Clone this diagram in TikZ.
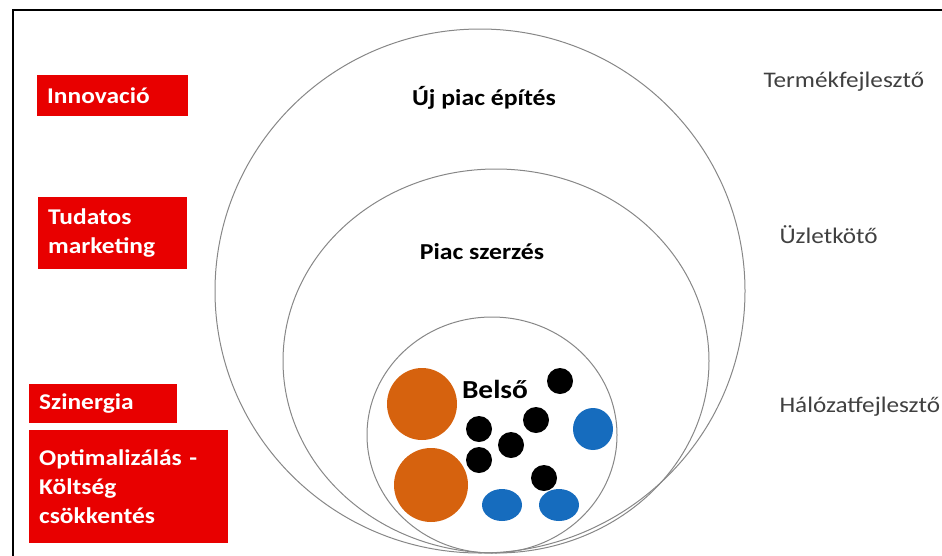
\documentclass[tikz,border=0pt]{standalone}
\usepackage{fontspec}
\setmainfont{Carlito}[FakeStretch=1.13]
\usetikzlibrary{positioning}
\definecolor{boxred}{RGB}{232,0,0}
\definecolor{ringgray}{RGB}{135,135,135}
\definecolor{dotorange}{RGB}{214,98,14}
\definecolor{dotblue}{RGB}{22,108,190}
\definecolor{labelgray}{RGB}{64,64,64}

\begin{document}
\begin{tikzpicture}[x=1pt,y=-1pt]
  \tikzstyle{redbox}=[rectangle,fill=boxred,text=white,font=\fontsize{22.5}{29}\selectfont\bfseries,
                      inner xsep=10pt,inner ysep=0pt,align=left,anchor=north west]
  \tikzstyle{level}=[font=\fontsize{22.8}{26}\selectfont\bfseries,text=black]
  \tikzstyle{role}=[font=\fontsize{22.3}{26}\selectfont,text=labelgray,anchor=west]
  \tikzstyle{ring}=[draw=ringgray,line width=1pt]
  \useasboundingbox (0,0) rectangle (942,555);
  \draw[line width=2pt] (13,560) -- (13,10) -- (950,10);
  % rings
  \draw[ring] (480,291) ellipse [x radius=265,y radius=262];
  \draw[ring] (496,361) ellipse [x radius=213,y radius=192];
  \draw[ring] (492,435) ellipse [x radius=125,y radius=118];
  % members
  \fill[dotorange] (422,404) ellipse [x radius=35,y radius=36];
  \fill[dotorange] (431,485) ellipse [x radius=37,y radius=37];
  \foreach \px/\py in {560/381,536/420,479/429,511/445,479/460,544/478}
    \fill[black] (\px,\py) circle [radius=13];
  \fill[dotblue] (593,429) ellipse [x radius=20,y radius=21];
  \fill[dotblue] (502,505) ellipse [x radius=20,y radius=16];
  \fill[dotblue] (559,505) ellipse [x radius=20,y radius=16];
  % left boxes
  \node[redbox,minimum width=151pt,minimum height=41pt,text width=131pt] (innov) at (37,75) {Innovació};
  \node[redbox,minimum width=149pt,minimum height=72pt,text width=129pt] (tudatos) at (38,197) {Tudatos\\marketing};
  \node[redbox,minimum width=148pt,minimum height=39pt,text width=128pt] (szin) at (29,384) {Szinergia};
  \node[redbox,minimum width=199pt,minimum height=113pt,text width=179pt] (optim) at (29,430) {Optimalizálás -\\Költség\\csökkentés};
  % ring labels
  \node[level] (ujpiac) at (484,98) {Új piac építés};
  \node[level] (szerzes) at (482,252) {Piac szerzés};
  \node[level,font=\fontsize{26}{30}\selectfont\bfseries] (belso) at (495,389) {Belső};
  % roles
  \node[role] (termek) at (760,82) {Termékfejlesztő};
  \node[role] (uzlet) at (776,235) {Üzletkötő};
  \node[role] (halozat) at (776,407) {Hálózatfejlesztő};
\end{tikzpicture}
\end{document}
